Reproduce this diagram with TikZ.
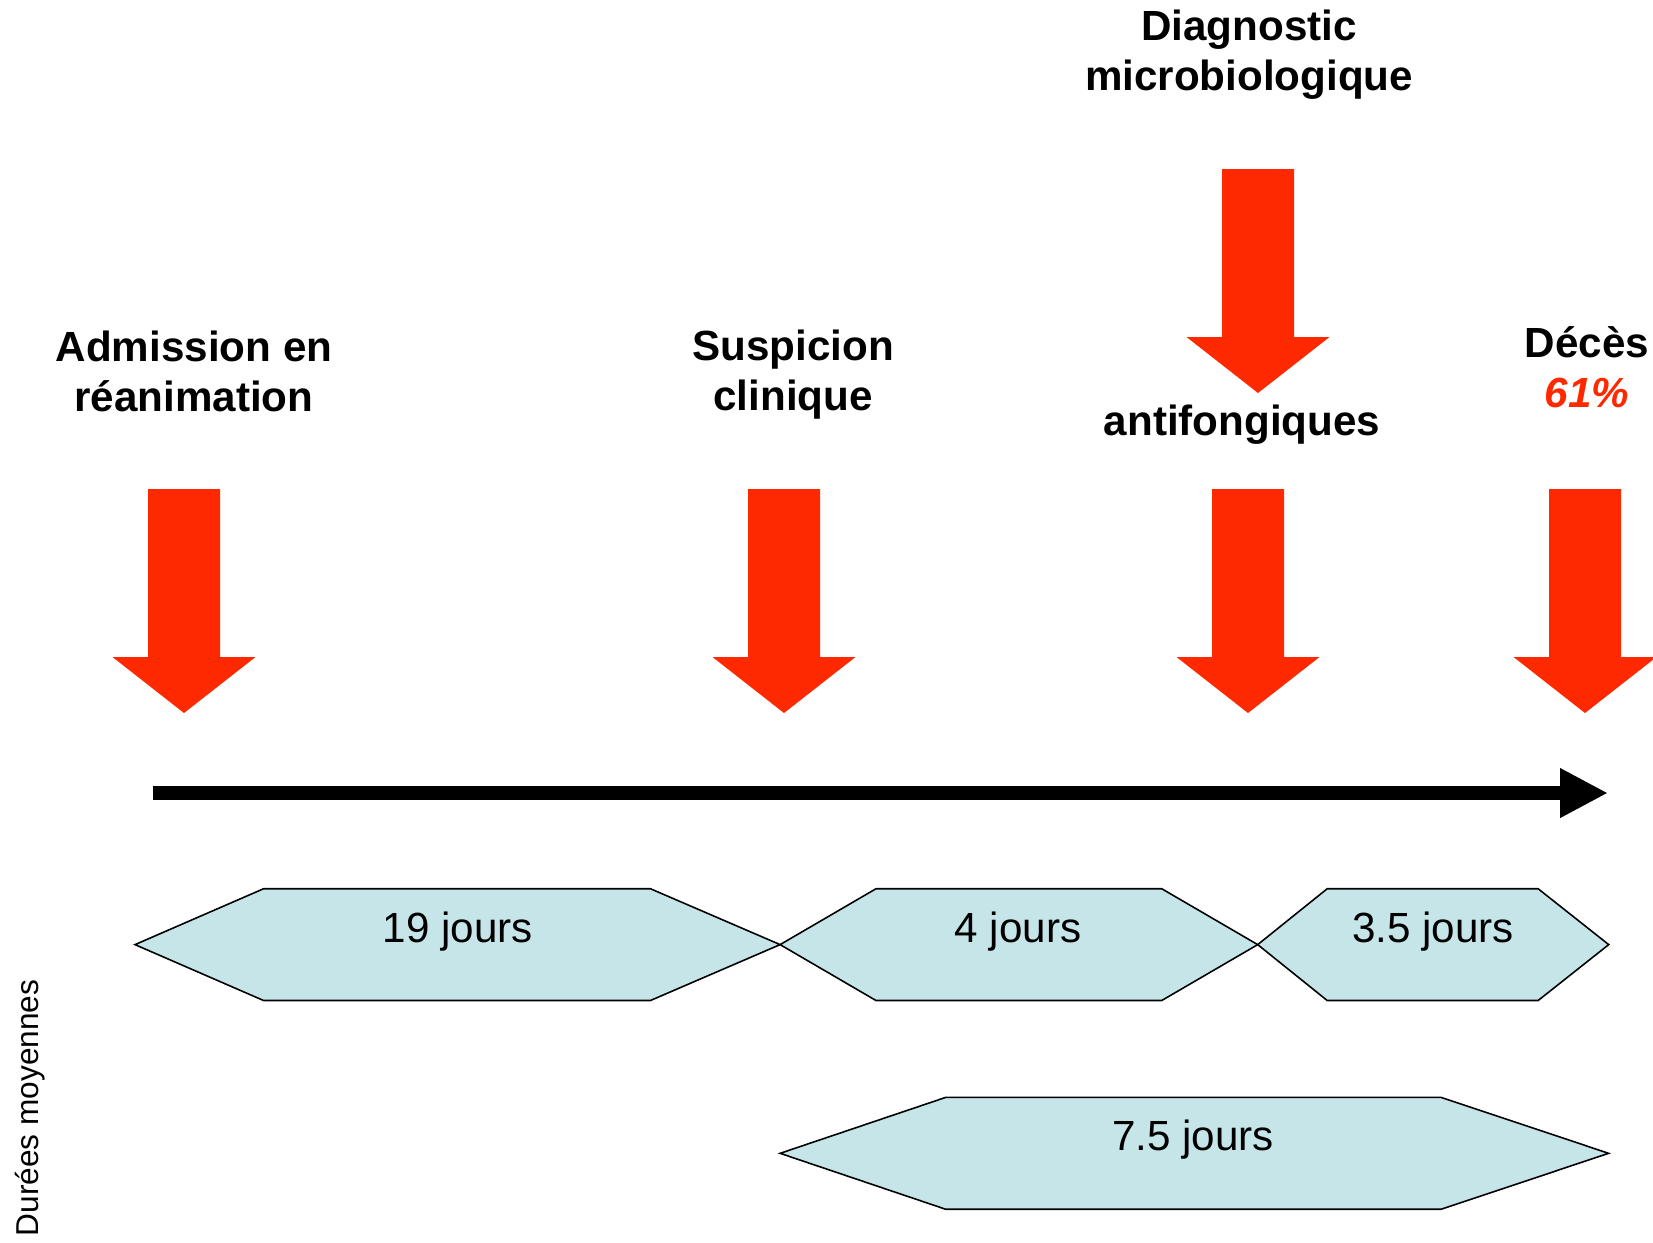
\documentclass[tikz,border=0pt]{standalone}
\usepackage{fontspec}
\setmainfont{Liberation Sans}
\usetikzlibrary{arrows.meta}
\definecolor{arrowred}{RGB}{255,41,0}
\definecolor{hexblue}{RGB}{197,229,233}
\tikzset{%
  blockarrow/.pic = {
    \fill[arrowred] (-36,0) -- (36,0) -- (36,168) -- (71.5,168)
      -- (0,224) -- (-71.5,168) -- (-36,168) -- cycle;
  },
  event/.style = {align=center, inner sep=0pt,
    font=\fontsize{12}{14.2}\selectfont\bfseries},
  period/.style = {draw=black, line width=0.45pt, fill=hexblue},
  days/.style = {anchor=base, inner sep=0pt,
    font=\fontsize{12}{14.4}\selectfont}
}

\begin{document}
\begin{tikzpicture}[x=0.1mm, y=-0.1mm]
\useasboundingbox (0,0) rectangle (1653,1242);
\clip (0,0) rectangle (1653,1242);
% events
\node[event] (adm) at (194,371) {Admission en\\r\'eanimation};
\node[event] (susp) at (793,375) {Suspicion\\clinique};
\node[event] (diag) at (1249,55) {Diagnostic\\microbiologique};
\node[event] (afong) at (1242,425) {antifongiques};
\node[event] (deces) at (1587,367) {D\'ec\`es\\\textcolor{arrowred}{\itshape 61\%}};
% red arrows
\pic (arrDiag) at (1258,169) {blockarrow};
\pic (arrAdm) at (184,489) {blockarrow};
\pic (arrSusp) at (784,489) {blockarrow};
\pic (arrAfong) at (1248,489) {blockarrow};
\pic (arrDeces) at (1585,489) {blockarrow};
% time line
\coordinate (t0) at (153,793);
\coordinate (t1) at (1608,793);
\draw[line width=1.48mm, -{Triangle[length=4.8mm, width=4.64mm]}] (t0) -- (t1);
% durations
\draw[period] (135,944.6) -- (263.6,888.7) -- (650.4,888.7) -- (780.1,944.6)
  -- (650.4,1000.5) -- (263.6,1000.5) -- cycle;
\draw[period] (780.1,944.6) -- (876,888.7) -- (1161.7,888.7) -- (1257.7,944.6)
  -- (1161.7,1000.5) -- (876,1000.5) -- cycle;
\draw[period] (1257.7,944.6) -- (1327.2,888.7) -- (1538.1,888.7) -- (1608.7,944.6)
  -- (1538.1,1000.5) -- (1327.2,1000.5) -- cycle;
\draw[period] (780.1,1153.3) -- (945.6,1097.4) -- (1441.1,1097.4) -- (1608.7,1153.3)
  -- (1441.1,1209.2) -- (945.6,1209.2) -- cycle;
\node[days] (d19) at (458,942) {19 jours};
\node[days] (d4) at (1018,942) {4 jours};
\node[days] (d35) at (1433,942) {3.5 jours};
\node[days] (d75) at (1193,1150) {7.5 jours};
\node[rotate=90, inner sep=0pt, font=\fontsize{9}{11}\selectfont] (dur) at (30,1108) {Dur\'ees moyennes};
\end{tikzpicture}
\end{document}
